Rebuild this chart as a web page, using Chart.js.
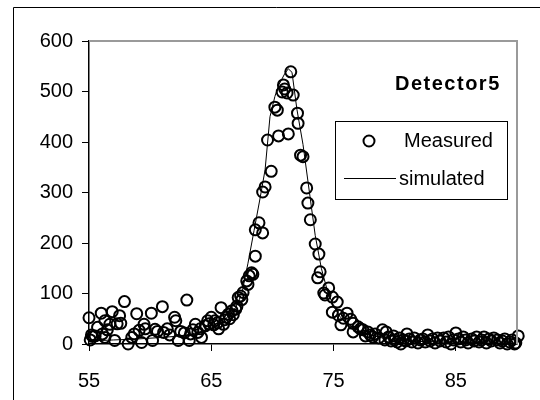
<!DOCTYPE html>
<html>
<head>
<meta charset="utf-8">
<script src="https://cdn.jsdelivr.net/npm/chart.js@4.4.1/dist/chart.umd.min.js"></script>
<style>
  body { margin: 0; background: #fff; }
  #wrap { width: 540px; height: 400px; }
</style>
</head>
<body>
<div id="wrap"><canvas id="detChart" width="540" height="400"></canvas></div>
<script>
// measured points (x = angle, y = counts)
var measuredX = [55.0, 55.1, 55.2, 55.3, 55.5, 55.7, 56.0, 56.1, 56.3, 56.3, 56.5, 56.7, 56.9, 57.1, 57.3, 57.5, 57.6, 57.9, 58.2, 58.5,
  58.7, 58.9, 59.1, 59.3, 59.5, 59.6, 60.1, 60.2, 60.4, 60.6, 61.0, 61.1, 61.4, 61.6, 62.0, 62.1, 62.3, 62.5, 62.8, 63.0,
  63.2, 63.3, 63.5, 63.7, 63.9, 64.1, 64.2, 64.5, 64.7, 64.8,
  65.0, 65.2, 65.3, 65.5, 65.6, 65.8, 66.0, 66.1, 66.2, 66.4, 66.5, 66.7, 66.8, 67.0, 67.1, 67.2, 67.4, 67.5, 67.6, 67.9,
  68.0, 68.1, 68.3, 68.4,
  68.6, 68.6, 68.9, 69.2, 69.2, 69.4, 69.6, 69.9, 70.2, 70.4, 70.5, 70.8, 70.9, 71.0, 71.2, 71.3, 71.5, 71.7, 72.05, 72.1,
  72.3, 72.5, 72.8, 72.9, 73.1, 73.5, 73.8, 73.7, 73.9,
  74.2, 74.3, 74.6, 74.9, 74.9, 75.3, 75.4, 75.6, 75.8, 76.1, 76.4, 76.6, 76.6, 77.0, 77.2, 77.4, 77.6, 77.8, 78.0, 78.2,
  78.4, 78.7, 79.0, 79.2, 79.3, 79.5, 79.7, 79.9, 80.0,
  80.2, 80.4, 80.5, 80.7, 80.9, 81.0, 81.2, 81.4, 81.6, 81.9, 82.1, 82.3, 82.5, 82.7, 82.9, 83.1, 83.3, 83.5, 83.7, 84.0,
  84.2, 84.4, 84.6, 84.8, 85.0, 85.2, 85.4, 85.6, 85.8, 86.0, 86.3, 86.5, 86.7, 86.9, 87.1, 87.3, 87.5, 87.7, 87.9, 88.1,
  88.4, 88.6, 88.8, 89.0, 89.2, 89.4, 89.6, 89.8, 89.9, 90.1];
var measuredY = [52, 8, 18, 15, 16, 33, 61, 20, 46, 13, 28, 39, 64, 7, 40, 56, 41, 84, 0, 13,
  20, 60, 27, 3, 39, 30, 61, 7, 29, 25, 74, 23, 30, 18, 53, 46, 7, 25, 22, 87,
  7, 20, 28, 39, 23, 30, 13, 36, 46, 40,
  53, 38, 46, 42, 30, 72, 39, 48, 53, 59, 50, 66, 58, 69, 75, 92, 95, 88, 102, 125,
  118, 135, 141, 138,
  174, 226, 240, 220, 301, 311, 404, 342, 469, 463, 412, 499, 513, 505, 497, 416, 539, 493, 457, 437,
  374, 371, 309, 279, 246, 198, 178, 131, 143,
  101, 97, 111, 93, 63, 83, 57, 38, 51, 61, 49, 41, 24, 34, 30, 28, 16, 24, 18, 14,
  20, 12, 28, 8, 24, 14, 6, 16, 8,
  4, 12, 0, 8, 6, 20, 10, 4, 12, 2, 8, 10, 4, 18, 6, 10, 2, 12, 6, 12,
  4, 14, 0, 8, 22, 10, 4, 14, 8, 2, 10, 6, 14, 4, 8, 14, 2, 10, 6, 12,
  8, 2, 6, 10, 0, 4, 8, 0, 2, 16];

// simulated curve
var simX = [55, 57, 59, 61, 62, 63, 64, 65, 66, 67, 67.5, 68, 68.5, 69, 69.4, 69.8, 70.2, 70.5, 71, 71.3,
  71.6, 72, 72.5, 73, 73.5, 74, 74.5, 75, 75.5, 76, 77, 78, 79, 80, 82, 84, 86, 88, 90];
var simY = [6, 8, 10, 13, 15, 18, 23, 30, 45, 72, 100, 160, 225, 290, 345, 450, 490, 512, 535, 545,
  538, 465, 395, 305, 215, 150, 105, 75, 55, 42, 27, 18, 12, 8, 5, 4, 3, 2, 2];

var xTicks = [55, 65, 75, 85];
var seriesNames = ['Measured', 'simulated'];
var panelTitle = 'Detector5';

var fontFam = "'Liberation Sans', Arial, sans-serif";

function toPoints(xs, ys) {
  var pts = [];
  for (var i = 0; i < xs.length; i++) pts.push({x: xs[i], y: ys[i]});
  return pts;
}

// frames, legend box and title drawn on top
var decorations = {
  id: 'decorations',
  afterDraw: function (chart) {
    var ctx = chart.ctx;
    var a = chart.chartArea;
    ctx.save();
    // outer frame (cut off at right/bottom like the picture)
    ctx.strokeStyle = '#000';
    ctx.lineWidth = 1;
    ctx.beginPath();
    ctx.moveTo(13.5, 400);
    ctx.lineTo(13.5, 7.5);
    ctx.lineTo(540, 7.5);
    ctx.stroke();
    // gray plot frame top/right
    ctx.strokeStyle = '#9a9a9a';
    ctx.lineWidth = 2;
    ctx.beginPath();
    ctx.moveTo(a.left, a.top);
    ctx.lineTo(a.right, a.top);
    ctx.lineTo(a.right, a.bottom);
    ctx.stroke();
    // title
    ctx.fillStyle = '#000';
    ctx.font = 'bold 20px ' + fontFam;
    ctx.letterSpacing = '1.5px';
    ctx.textBaseline = 'middle';
    ctx.textAlign = 'left';
    ctx.fillText(panelTitle, 395, 84);
    ctx.letterSpacing = '0px';
    // legend box
    ctx.fillStyle = '#fff';
    ctx.fillRect(335, 121, 172, 78);
    ctx.strokeStyle = '#000';
    ctx.lineWidth = 1;
    ctx.strokeRect(335.5, 121.5, 172, 78);
    ctx.lineWidth = 2;
    ctx.beginPath();
    ctx.arc(369, 141, 5.5, 0, Math.PI * 2);
    ctx.stroke();
    ctx.lineWidth = 1;
    ctx.beginPath();
    ctx.moveTo(344, 178.5);
    ctx.lineTo(396, 178.5);
    ctx.stroke();
    ctx.fillStyle = '#000';
    ctx.font = '20px ' + fontFam;
    ctx.fillText(seriesNames[0], 404, 141);
    ctx.fillText(seriesNames[1], 399, 179);
    ctx.restore();
  }
};

var ctx = document.getElementById('detChart').getContext('2d');
var chart = new Chart(ctx, {
  type: 'scatter',
  data: {
    datasets: [{
      label: seriesNames[0],
      data: toPoints(measuredX, measuredY),
      showLine: false,
      clip: false,
      pointStyle: 'circle',
      pointRadius: 5.5,
      pointBorderWidth: 2,
      pointBorderColor: '#000',
      pointBackgroundColor: 'rgba(0,0,0,0)',
      borderColor: '#000',
      backgroundColor: 'rgba(0,0,0,0)'
    }, {
      label: seriesNames[1],
      data: toPoints(simX, simY),
      showLine: true,
      pointRadius: 0,
      borderColor: '#000',
      borderWidth: 1,
      tension: 0,
      fill: false
    }]
  },
  options: {
    responsive: false,
    animation: false,
    events: [],
    layout: { padding: { top: 41, right: 23, left: 0, bottom: 0 } },
    plugins: { legend: { display: false }, tooltip: { enabled: false } },
    scales: {
      x: {
        type: 'linear',
        min: 55,
        max: 90,
        afterBuildTicks: function (scale) {
          scale.ticks = xTicks.map(function (v) { return {value: v}; });
        },
        afterFit: function (scale) { scale.height = 56; },
        grid: { drawOnChartArea: false, drawTicks: true, tickLength: 7, color: '#000', lineWidth: 1 },
        border: { color: '#000', width: 1.5 },
        ticks: { color: '#000', font: { family: fontFam, size: 20 }, padding: 18, maxRotation: 0, autoSkip: false }
      },
      y: {
        min: 0,
        max: 600,
        afterFit: function (scale) { scale.width = 89; },
        grid: { drawOnChartArea: false, drawTicks: true, tickLength: 7, color: '#000', lineWidth: 1 },
        border: { color: '#000', width: 1.5 },
        ticks: { stepSize: 100, color: '#000', font: { family: fontFam, size: 20 }, padding: 9 }
      }
    }
  },
  plugins: [decorations]
});
</script>
</body>
</html>
